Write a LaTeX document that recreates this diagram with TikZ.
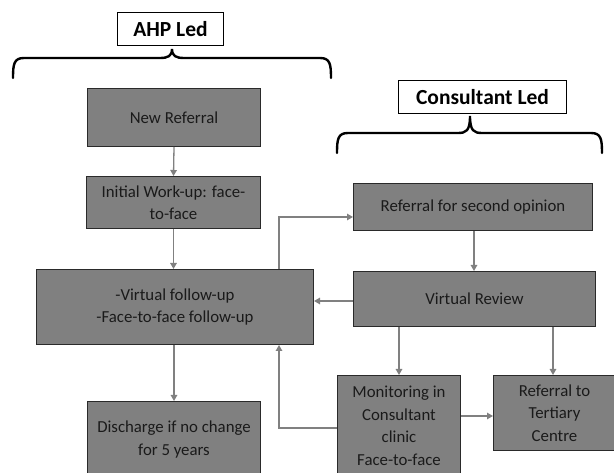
\documentclass[tikz,border=0pt]{standalone}
\usepackage{fontspec}
\setmainfont{Carlito}
\usetikzlibrary{arrows.meta}
\definecolor{boxfill}{HTML}{808080}
\definecolor{boxline}{HTML}{2A2A2A}
\definecolor{arrowc}{HTML}{808080}
\definecolor{txt}{HTML}{1A1A1A}
\tikzset{
  x=1pt, y=-1pt,
  procbox/.style={draw=boxline, line width=1pt, fill=boxfill, text=txt, align=center,
    font=\fontsize{16.8}{22.5}\selectfont, inner sep=0pt, anchor=north west},
  titlebox/.style={draw=black, line width=1pt, fill=white, align=center,
    font=\fontsize{21.5}{24}\bfseries\selectfont, inner sep=0pt, anchor=north west},
  conn/.style={draw=arrowc, line width=1.3pt, -{Triangle[length=6pt,width=6.5pt]}},
  bracestyle/.style={draw=black, line width=2.4pt, line cap=round}
}
\begin{document}
\begin{tikzpicture}
\useasboundingbox (0,0) rectangle (614,473);
\clip (0,0) rectangle (614,473);
% titles
\node[titlebox, minimum width=106pt, minimum height=33pt] (ahp) at (117,12) {AHP Led};
\node[titlebox, minimum width=168pt, minimum height=33pt] (cons) at (398,80) {Consultant Led};
% braces
\draw[bracestyle] (13,78) .. controls (13,64) and (14,58) .. (24,58) -- (160,58)
  .. controls (168,58) and (172,56) .. (172,49) .. controls (172,56) and (176,58) .. (184,58)
  -- (320,58) .. controls (330,58) and (331,64) .. (331,78);
\draw[bracestyle] (337,153) .. controls (337,139) and (338,133) .. (348,133) -- (458,133)
  .. controls (466,133) and (470,131) .. (470,116) .. controls (470,131) and (474,133) .. (482,133)
  -- (591,133) .. controls (601,133) and (602,139) .. (602,153);
% boxes
\node[procbox, minimum width=173pt, minimum height=58pt] (newref) at (87,88) {New Referral};
\node[procbox, minimum width=174pt, minimum height=52pt] (init) at (86,176) {Initial Work-up: face-\\to-face};
\node[procbox, minimum width=277pt, minimum height=75pt] (vfu) at (36,269) {-Virtual follow-up\\-Face-to-face follow-up};
\node[procbox, minimum width=173pt, minimum height=76pt] (dis) at (87,401) {Discharge if no change\\for 5 years};
\node[procbox, minimum width=239pt, minimum height=47pt] (second) at (353,183) {Referral for second opinion};
\node[procbox, minimum width=242pt, minimum height=55pt] (vr) at (353,271) {Virtual Review};
\node[procbox, minimum width=123pt, minimum height=101pt] (mon) at (337,375) {Monitoring in\\Consultant\\clinic\\Face-to-face};
\node[procbox, minimum width=122pt, minimum height=75pt] (tert) at (493,375) {Referral to\\Tertiary\\Centre};
% connectors
\draw[conn] (newref.south) -- (init.north);
\draw[conn] (init.south) -- (vfu.north -| init.south);
\draw[conn] (vfu.south -| dis.north) -- (dis.north);
\coordinate (c1) at (279,217);
\draw[conn] (vfu.north -| c1) -- (c1) -- (c1 -| second.west);
\draw[conn] (second.south -| 474,0) -- (vr.north -| 474,0);
\draw[conn] (vr.west |- 0,301) -- (vfu.east |- 0,301);
\draw[conn] (vr.south -| 399,0) -- (mon.north -| 399,0);
\draw[conn] (vr.south -| 553,0) -- (tert.north -| 553,0);
\draw[conn] (mon.east |- 0,416) -- (tert.west |- 0,416);
\coordinate (c2) at (279,428);
\draw[conn] (mon.west |- c2) -- (c2) -- (vfu.south -| c2);
\end{tikzpicture}
\end{document}
